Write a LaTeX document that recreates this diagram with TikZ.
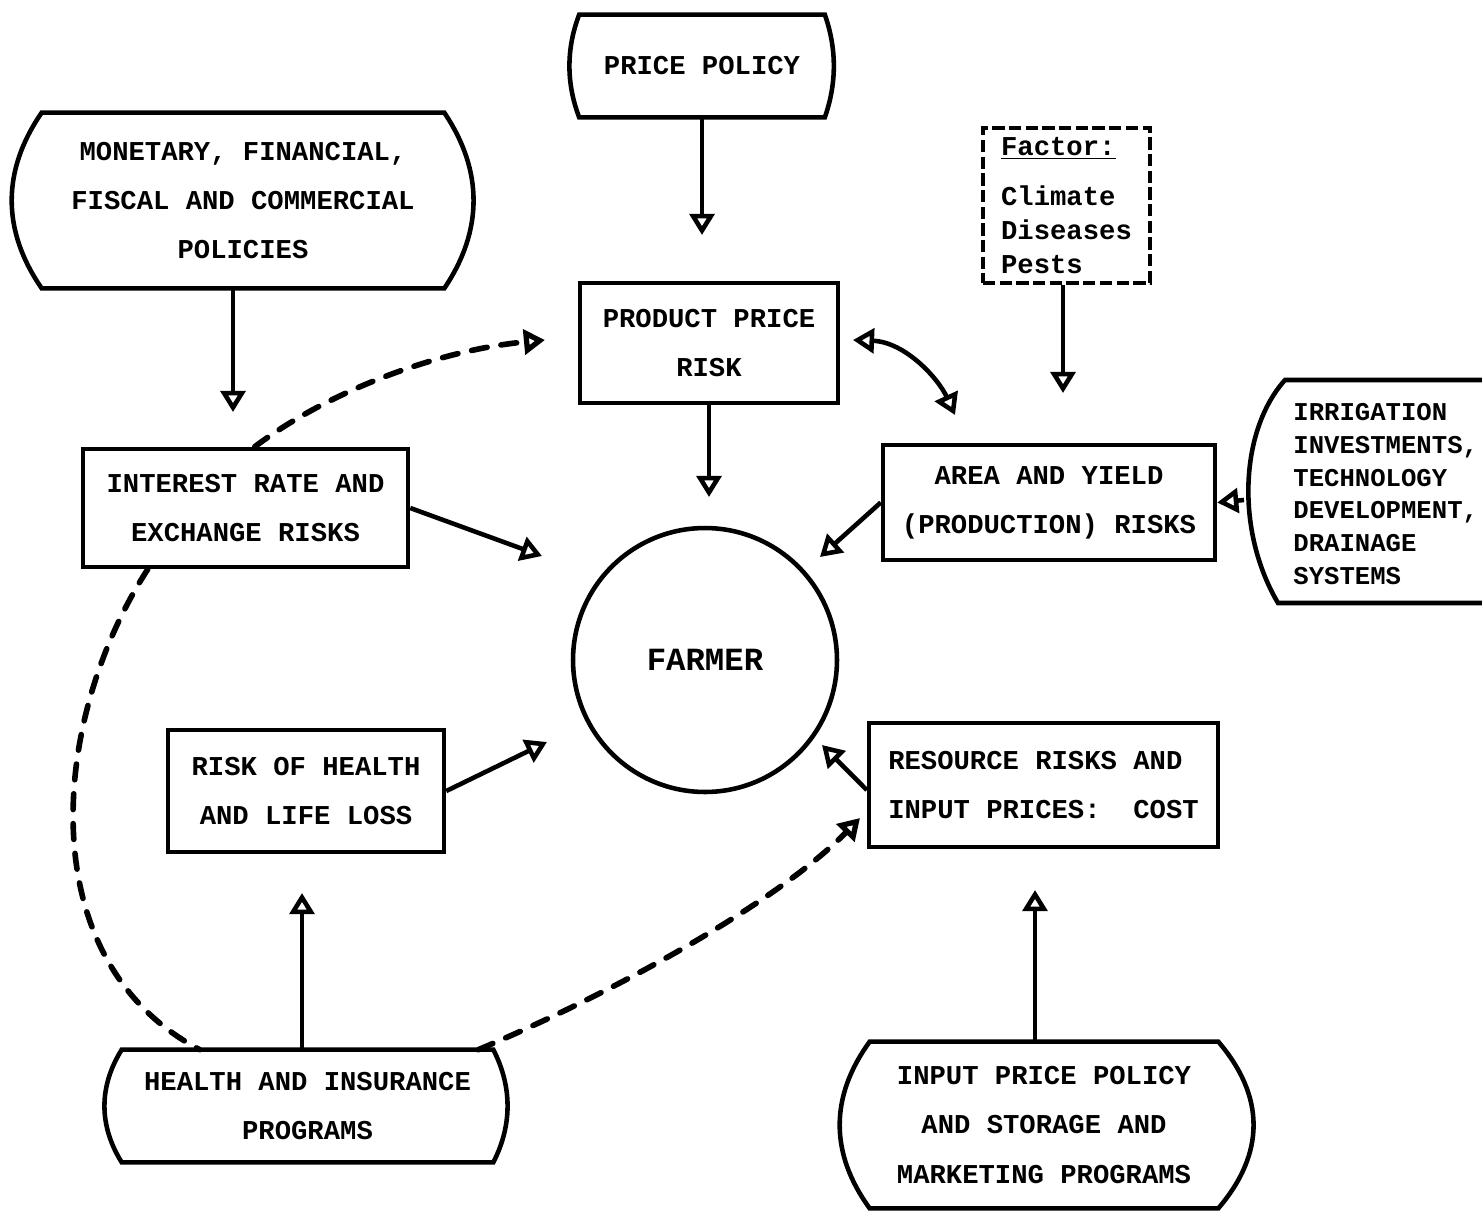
\documentclass[tikz,border=0pt]{standalone}
\usepackage{fontspec}
\setmainfont{Liberation Mono}
\usetikzlibrary{arrows.meta,calc}
\tikzset{
  tipo/.tip={Triangle[open,length=12pt,width=14pt]},
  base/.style={font=\fontsize{15.5}{28}\selectfont\bfseries, align=center, inner sep=0pt},
  box/.style={base, draw, line width=2.6pt},
  ln/.style={line width=2.6pt},
  arr/.style={ln, -tipo},
  dsh/.style={line width=3.2pt, line cap=round, dash pattern=on 9pt off 8pt},
}
\begin{document}
\begin{tikzpicture}[x=0.02cm,y=-0.02cm]
\fill[white] (0,0) rectangle (1482,1221);
\useasboundingbox (0,0) rectangle (1482,1221);

% barrel-shaped policy nodes
\node[base, minimum width=4.9cm, minimum height=2.04cm] (pp) at (702,66) {PRICE POLICY};
\draw[ln] (pp.north west) -- (pp.north east) .. controls +(12,34) and +(12,-34) .. (pp.south east)
  -- (pp.south west) .. controls +(-13,-34) and +(-13,34) .. cycle;

\node[base, minimum width=8.04cm, minimum height=3.5cm] (mon) at (243,200.5) {MONETARY, FINANCIAL,\\FISCAL AND COMMERCIAL\\POLICIES};
\draw[ln] (mon.north west) -- (mon.north east) .. controls +(39,58) and +(39,-58) .. (mon.south east)
  -- (mon.south west) .. controls +(-40,-58) and +(-40,58) .. cycle;

\node[base, minimum width=7.42cm, minimum height=2.24cm] (hi) at (307.5,1106) {HEALTH AND INSURANCE\\PROGRAMS};
\draw[ln] (hi.north west) -- (hi.north east) .. controls +(19,37) and +(19,-37) .. (hi.south east)
  -- (hi.south west) .. controls +(-23,-37) and +(-23,37) .. cycle;

\node[base, minimum width=6.96cm, minimum height=3.32cm] (ip) at (1044,1125) {INPUT PRICE POLICY\\AND STORAGE AND\\MARKETING PROGRAMS};
\draw[ln] (ip.north west) -- (ip.north east) .. controls +(47,55) and +(47,-55) .. (ip.south east)
  -- (ip.south west) .. controls +(-40,-55) and +(-40,55) .. cycle;

\node[base, align=left, anchor=west, font=\fontsize{14.6}{18.7}\selectfont\bfseries] (irr) at (1293,494)
  {IRRIGATION\\INVESTMENTS,\\TECHNOLOGY\\DEVELOPMENT,\\DRAINAGE\\SYSTEMS};
\draw[ln] (1482,380) -- (1285,380) .. controls (1240,430) and (1235,530) .. (1278,603) -- (1482,603);
\coordinate (irrL) at (1244,500);

% factor box
\node[base, align=left, draw, line width=2.6pt, dash pattern=on 7pt off 2.5pt,
  minimum width=3.34cm, minimum height=3.1cm, font=\fontsize{15.5}{19.3}\selectfont\bfseries] (fac) at (1066.5,205.5)
  {\underline{Factor:}\\[9pt]Climate\\Diseases\\Pests};

% risk boxes
\node[box, minimum width=5.16cm, minimum height=2.4cm] (ppr) at (709,343) {PRODUCT PRICE\\RISK};
\node[box, minimum width=6.5cm, minimum height=2.36cm] (ir) at (245.5,508) {INTEREST RATE AND\\EXCHANGE RISKS};
\node[box, minimum width=6.64cm, minimum height=2.3cm] (ay) at (1049,502.5) {AREA AND YIELD\\(PRODUCTION) RISKS};
\node[box, minimum width=5.52cm, minimum height=2.44cm] (rh) at (306,791) {RISK OF HEALTH\\AND LIFE LOSS};
\node[box, align=left, minimum width=6.98cm, minimum height=2.48cm] (rr) at (1043.5,785) {RESOURCE RISKS AND\\INPUT PRICES:\ \ COST};

\node[box, circle, minimum size=5.28cm, font=\fontsize{18.4}{22}\selectfont\bfseries] (farmer) at (705,660) {FARMER};

% solid arrows
\coordinate (t1) at (702,235);
\draw[arr] (pp.south) -- (t1);
\coordinate (t2) at (233,412);
\draw[arr] (mon.south -| t2) -- (t2);
\coordinate (t3) at (1063,393);
\draw[arr] (fac.south -| t3) -- (t3);
\coordinate (t4) at (709,497);
\draw[arr] (ppr.south) -- (t4);
\coordinate (fa1) at (542,556);
\draw[arr] (ir.east) -- (fa1);
\coordinate (fa2) at (547,742);
\draw[arr] (rh.east) -- (fa2);
\coordinate (fa3) at (822,745);
\draw[arr] ($(rr.west)+(0,5)$) -- (fa3);
\coordinate (fa4) at (820,557);
\draw[arr] (ay.west) -- (fa4);
\draw[arr] (irrL) -- (ay.east);
\coordinate (t10) at (302,893);
\draw[arr] (hi.north -| t10) -- (t10);
\coordinate (t11) at (1035,890);
\draw[arr] (ip.north -| t11) -- (t11);

% double curved arrow
\coordinate (c12a) at (853,340);
\coordinate (c12b) at (955,415);
\draw[ln, tipo-tipo] (c12a) .. controls (905,342) and (938,378) .. (c12b);

% dashed connectors
\coordinate (t13) at (545,340);
\draw[dsh, -tipo] ($(ir.north west)+(174,0)$) .. controls (330,390) and (440,350) .. (t13);
\draw[dsh] ($(ir.south west)+(67,0)$) .. controls (50,720) and (30,960) .. ($(hi.north west)+(78,0)$);
\coordinate (t15) at (860,818);
\draw[dsh, -tipo] ($(hi.north east)+(-15,0)$) .. controls (620,990) and (780,900) .. (t15);
\end{tikzpicture}
\end{document}
